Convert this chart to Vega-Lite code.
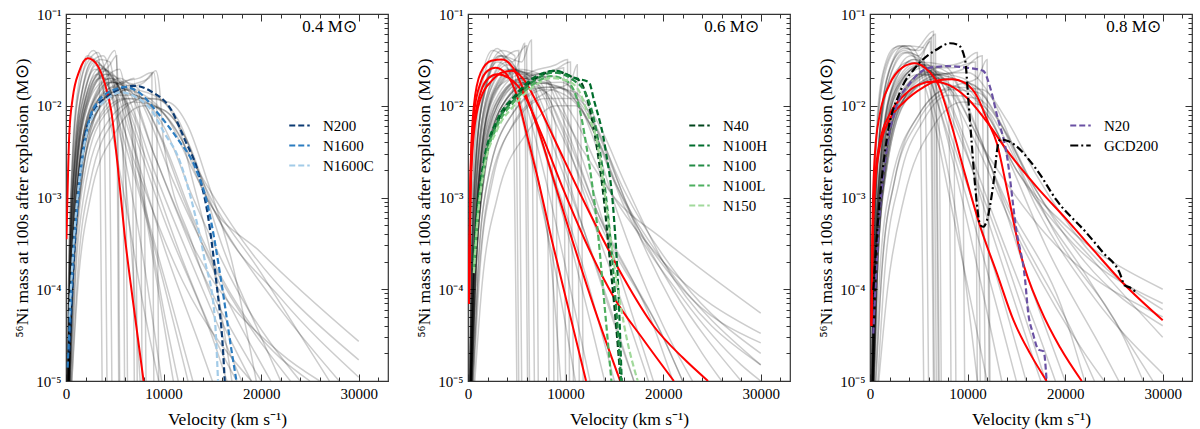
{
  "$schema": "https://vega.github.io/schema/vega-lite/v6.json",
  "background": "white",
  "padding": {"left": 13, "top": 6, "right": 2, "bottom": 2},
  "config": {
    "font": "Liberation Serif",
    "view": {"stroke": "#333", "strokeWidth": 1.2},
    "axis": {
      "labelFont": "Liberation Serif", "titleFont": "Liberation Serif",
      "labelFontSize": 15, "titleFontSize": 17.5, "titleFontWeight": "normal",
      "labelColor": "#000", "titleColor": "#000", "domain": false, "grid": false,
      "tickColor": "#333", "tickWidth": 1, "labelOverlap": false, "labelFlush": false, "labelBound": false
    },
    "legend": {"labelFont": "Liberation Serif", "labelFontSize": 15, "labelColor": "#000"},
    "concat": {"spacing": 25}
  },
  "resolve": {"scale": {"color": "independent", "strokeDash": "independent"}, "legend": {"color": "independent", "strokeDash": "independent"}},
  "datasets": {
    "p1": [
      {"s":"a1","x":100,"y":1e-5},{"s":"a1","x":250,"y":1e-4},{"s":"a1","x":500,"y":1e-3},{"s":"a1","x":1000,"y":1e-2},{"s":"a1","x":2200,"y":3.5e-2},{"s":"a1","x":3000,"y":3e-2},{"s":"a1","x":4000,"y":1.2e-2},{"s":"a1","x":6000,"y":1e-3},{"s":"a1","x":8000,"y":6e-5},{"s":"a1","x":9500,"y":1e-5},
      {"s":"a2","x":150,"y":1e-5},{"s":"a2","x":300,"y":1e-4},{"s":"a2","x":600,"y":1.5e-3},{"s":"a2","x":1200,"y":1.2e-2},{"s":"a2","x":2800,"y":4e-2},{"s":"a2","x":3400,"y":3.2e-2},{"s":"a2","x":3700,"y":1e-5},
      {"s":"a3","x":100,"y":1e-5},{"s":"a3","x":300,"y":2e-4},{"s":"a3","x":700,"y":2e-3},{"s":"a3","x":1500,"y":1.2e-2},{"s":"a3","x":3000,"y":3e-2},{"s":"a3","x":4500,"y":2e-2},{"s":"a3","x":7000,"y":2e-3},{"s":"a3","x":11000,"y":6e-5},{"s":"a3","x":13000,"y":1e-5},
      {"s":"a4","x":200,"y":1e-5},{"s":"a4","x":400,"y":2e-4},{"s":"a4","x":800,"y":1.5e-3},{"s":"a4","x":2000,"y":1.2e-2},{"s":"a4","x":4000,"y":2.8e-2},{"s":"a4","x":5000,"y":4e-2},{"s":"a4","x":5300,"y":2e-2},{"s":"a4","x":5500,"y":1e-5},
      {"s":"a5","x":200,"y":1e-5},{"s":"a5","x":400,"y":1.5e-4},{"s":"a5","x":900,"y":1.5e-3},{"s":"a5","x":2000,"y":1e-2},{"s":"a5","x":3500,"y":2e-2},{"s":"a5","x":5000,"y":1.8e-2},{"s":"a5","x":8000,"y":3e-3},{"s":"a5","x":12000,"y":2e-4},{"s":"a5","x":16000,"y":2e-5},{"s":"a5","x":17500,"y":1e-5},
      {"s":"a6","x":300,"y":1e-5},{"s":"a6","x":500,"y":1e-4},{"s":"a6","x":1000,"y":1e-3},{"s":"a6","x":2500,"y":8e-3},{"s":"a6","x":4500,"y":1.8e-2},{"s":"a6","x":6500,"y":1.5e-2},{"s":"a6","x":9000,"y":3e-3},{"s":"a6","x":14000,"y":1.5e-4},{"s":"a6","x":20000,"y":1e-5},
      {"s":"a7","x":300,"y":1e-5},{"s":"a7","x":600,"y":2e-4},{"s":"a7","x":1200,"y":1.5e-3},{"s":"a7","x":3000,"y":1e-2},{"s":"a7","x":6000,"y":1.6e-2},{"s":"a7","x":8500,"y":2e-2},{"s":"a7","x":9000,"y":2.3e-2},{"s":"a7","x":9300,"y":1e-2},{"s":"a7","x":9500,"y":1e-5},
      {"s":"a8","x":250,"y":1e-5},{"s":"a8","x":500,"y":1e-4},{"s":"a8","x":1000,"y":1e-3},{"s":"a8","x":2000,"y":6e-3},{"s":"a8","x":4000,"y":1.3e-2},{"s":"a8","x":7000,"y":1.3e-2},{"s":"a8","x":10000,"y":6e-3},{"s":"a8","x":13000,"y":1e-3},{"s":"a8","x":18000,"y":8e-5},{"s":"a8","x":24000,"y":1e-5},
      {"s":"a9","x":300,"y":1e-5},{"s":"a9","x":600,"y":1e-4},{"s":"a9","x":1200,"y":8e-4},{"s":"a9","x":3000,"y":6e-3},{"s":"a9","x":6000,"y":1.2e-2},{"s":"a9","x":9000,"y":1e-2},{"s":"a9","x":12000,"y":4e-3},{"s":"a9","x":14000,"y":1.2e-3},{"s":"a9","x":20000,"y":2.5e-4},{"s":"a9","x":30000,"y":2.7e-5},
      {"s":"a10","x":400,"y":1e-5},{"s":"a10","x":700,"y":1e-4},{"s":"a10","x":1500,"y":1.2e-3},{"s":"a10","x":3500,"y":1e-2},{"s":"a10","x":6000,"y":1.8e-2},{"s":"a10","x":7500,"y":1.5e-2},{"s":"a10","x":7800,"y":1e-5},
      {"s":"a11","x":200,"y":1e-5},{"s":"a11","x":400,"y":2e-4},{"s":"a11","x":900,"y":2.5e-3},{"s":"a11","x":2000,"y":1.5e-2},{"s":"a11","x":3000,"y":2.5e-2},{"s":"a11","x":4200,"y":1.8e-2},{"s":"a11","x":6000,"y":4e-3},{"s":"a11","x":9000,"y":3e-4},{"s":"a11","x":12500,"y":1e-5},
      {"s":"a12","x":300,"y":1e-5},{"s":"a12","x":500,"y":1e-4},{"s":"a12","x":1000,"y":1.3e-3},{"s":"a12","x":2200,"y":1e-2},{"s":"a12","x":4000,"y":2.2e-2},{"s":"a12","x":5200,"y":1.8e-2},{"s":"a12","x":7000,"y":5e-3},{"s":"a12","x":10000,"y":6e-4},{"s":"a12","x":15000,"y":3e-5},{"s":"a12","x":16500,"y":1e-5},
      {"s":"a13","x":400,"y":1e-5},{"s":"a13","x":800,"y":2e-4},{"s":"a13","x":1500,"y":2e-3},{"s":"a13","x":3000,"y":1e-2},{"s":"a13","x":5500,"y":2e-2},{"s":"a13","x":7500,"y":1.2e-2},{"s":"a13","x":11000,"y":1.5e-3},{"s":"a13","x":16000,"y":1.2e-4},{"s":"a13","x":23000,"y":1e-5},
      {"s":"a14","x":500,"y":1e-5},{"s":"a14","x":900,"y":1e-4},{"s":"a14","x":1800,"y":1e-3},{"s":"a14","x":4000,"y":6e-3},{"s":"a14","x":7000,"y":1.1e-2},{"s":"a14","x":10000,"y":9e-3},{"s":"a14","x":12500,"y":4e-3},{"s":"a14","x":15000,"y":8e-4},{"s":"a14","x":22000,"y":8e-5},{"s":"a14","x":30000,"y":1.1e-5},
      {"s":"a15","x":300,"y":1e-5},{"s":"a15","x":600,"y":2e-4},{"s":"a15","x":1100,"y":2e-3},{"s":"a15","x":2400,"y":1.3e-2},{"s":"a15","x":4500,"y":2.8e-2},{"s":"a15","x":5200,"y":3.5e-2},{"s":"a15","x":5400,"y":1e-5},
      {"s":"a16","x":200,"y":1e-5},{"s":"a16","x":350,"y":1e-4},{"s":"a16","x":700,"y":1.5e-3},{"s":"a16","x":1500,"y":1.2e-2},{"s":"a16","x":2800,"y":3.2e-2},{"s":"a16","x":3800,"y":2.5e-2},{"s":"a16","x":4200,"y":1e-5},
      {"s":"a17","x":400,"y":1e-5},{"s":"a17","x":700,"y":1.5e-4},{"s":"a17","x":1400,"y":1.5e-3},{"s":"a17","x":3000,"y":8e-3},{"s":"a17","x":6000,"y":1.5e-2},{"s":"a17","x":8000,"y":1.8e-2},{"s":"a17","x":9200,"y":2.4e-2},{"s":"a17","x":9600,"y":1.5e-2},{"s":"a17","x":10000,"y":4e-3},{"s":"a17","x":13000,"y":3e-4},{"s":"a17","x":19000,"y":1e-5},
      {"s":"a18","x":300,"y":1e-5},{"s":"a18","x":600,"y":1e-4},{"s":"a18","x":1200,"y":1e-3},{"s":"a18","x":2500,"y":6e-3},{"s":"a18","x":5000,"y":1.4e-2},{"s":"a18","x":8000,"y":1.2e-2},{"s":"a18","x":11000,"y":6e-3},{"s":"a18","x":13500,"y":2e-3},{"s":"a18","x":17000,"y":5e-4},{"s":"a18","x":30000,"y":1.7e-5},
      {"s":"a19","x":250,"y":1e-5},{"s":"a19","x":500,"y":2e-4},{"s":"a19","x":1000,"y":2e-3},{"s":"a19","x":2000,"y":1.2e-2},{"s":"a19","x":3500,"y":2.6e-2},{"s":"a19","x":4800,"y":2e-2},{"s":"a19","x":6500,"y":6e-3},{"s":"a19","x":8500,"y":4e-4},{"s":"a19","x":11000,"y":1e-5},
      {"s":"a20","x":350,"y":1e-5},{"s":"a20","x":600,"y":1e-4},{"s":"a20","x":1200,"y":1.5e-3},{"s":"a20","x":2600,"y":1e-2},{"s":"a20","x":4500,"y":1.8e-2},{"s":"a20","x":6000,"y":1.6e-2},{"s":"a20","x":6300,"y":1e-5},
      {"s":"a21","x":500,"y":1e-5},{"s":"a21","x":1000,"y":2e-4},{"s":"a21","x":2000,"y":2e-3},{"s":"a21","x":4000,"y":8e-3},{"s":"a21","x":6500,"y":1.2e-2},{"s":"a21","x":9000,"y":1.2e-2},{"s":"a21","x":11500,"y":7e-3},{"s":"a21","x":13500,"y":2e-3},{"s":"a21","x":16000,"y":3e-4},{"s":"a21","x":20000,"y":3e-5},{"s":"a21","x":22000,"y":1e-5},
      {"s":"a22","x":200,"y":1e-5},{"s":"a22","x":400,"y":1.5e-4},{"s":"a22","x":800,"y":1.5e-3},{"s":"a22","x":1800,"y":1e-2},{"s":"a22","x":3200,"y":2.2e-2},{"s":"a22","x":4500,"y":1.5e-2},{"s":"a22","x":7000,"y":2.5e-3},{"s":"a22","x":12000,"y":1.2e-4},{"s":"a22","x":19000,"y":1e-5},
      {"s":"a23","x":300,"y":1e-5},{"s":"a23","x":600,"y":1.5e-4},{"s":"a23","x":1200,"y":1.5e-3},{"s":"a23","x":2500,"y":1e-2},{"s":"a23","x":4500,"y":2e-2},{"s":"a23","x":6500,"y":1.4e-2},{"s":"a23","x":9000,"y":3e-3},{"s":"a23","x":13000,"y":3e-4},{"s":"a23","x":22000,"y":2e-5},{"s":"a23","x":26000,"y":1e-5},
      {"s":"a24","x":400,"y":1e-5},{"s":"a24","x":800,"y":1.5e-4},{"s":"a24","x":1600,"y":1.5e-3},{"s":"a24","x":3500,"y":1e-2},{"s":"a24","x":6000,"y":1.8e-2},{"s":"a24","x":7000,"y":2e-2},{"s":"a24","x":7300,"y":1e-5},
      {"s":"a25","x":200,"y":1e-5},{"s":"a25","x":400,"y":2e-4},{"s":"a25","x":800,"y":2e-3},{"s":"a25","x":1700,"y":1.5e-2},{"s":"a25","x":2600,"y":3e-2},{"s":"a25","x":3800,"y":3.5e-2},{"s":"a25","x":4300,"y":2.8e-2},{"s":"a25","x":4700,"y":1e-5},
      {"s":"a26","x":300,"y":1e-5},{"s":"a26","x":600,"y":1e-4},{"s":"a26","x":1300,"y":1.2e-3},{"s":"a26","x":3000,"y":8e-3},{"s":"a26","x":5500,"y":1.5e-2},{"s":"a26","x":8000,"y":1.3e-2},{"s":"a26","x":10500,"y":7e-3},{"s":"a26","x":13000,"y":2e-3},{"s":"a26","x":16000,"y":5e-4},{"s":"a26","x":22000,"y":6e-5},{"s":"a26","x":28000,"y":1e-5},
      {"s":"a27","x":600,"y":1e-5},{"s":"a27","x":1200,"y":1e-4},{"s":"a27","x":2500,"y":1e-3},{"s":"a27","x":5000,"y":5e-3},{"s":"a27","x":8000,"y":1e-2},{"s":"a27","x":10000,"y":9e-3},{"s":"a27","x":12000,"y":5e-3},{"s":"a27","x":14000,"y":1.5e-3},{"s":"a27","x":20000,"y":1.5e-4},{"s":"a27","x":27000,"y":1e-5},
      {"s":"a28","x":200,"y":1e-5},{"s":"a28","x":400,"y":1e-4},{"s":"a28","x":900,"y":1.2e-3},{"s":"a28","x":2000,"y":1e-2},{"s":"a28","x":3800,"y":2.5e-2},{"s":"a28","x":6000,"y":1.5e-2},{"s":"a28","x":9000,"y":2e-3},{"s":"a28","x":14000,"y":1e-4},{"s":"a28","x":18000,"y":1e-5},
      {"s":"a29","x":300,"y":1e-5},{"s":"a29","x":600,"y":1e-4},{"s":"a29","x":1200,"y":1.2e-3},{"s":"a29","x":2500,"y":9e-3},{"s":"a29","x":4500,"y":2e-2},{"s":"a29","x":6000,"y":1.2e-2},{"s":"a29","x":8000,"y":3e-3},{"s":"a29","x":8200,"y":1e-5},
      {"s":"a30","x":250,"y":1e-5},{"s":"a30","x":500,"y":1.5e-4},{"s":"a30","x":1000,"y":1.8e-3},{"s":"a30","x":2200,"y":1.3e-2},{"s":"a30","x":4000,"y":2.4e-2},{"s":"a30","x":5500,"y":1.5e-2},{"s":"a30","x":6800,"y":5e-3},{"s":"a30","x":7000,"y":1e-5},
      {"s":"a31","x":150,"y":1e-5},{"s":"a31","x":300,"y":2e-4},{"s":"a31","x":700,"y":3e-3},{"s":"a31","x":1500,"y":1.8e-2},{"s":"a31","x":2500,"y":3.3e-2},{"s":"a31","x":3300,"y":3.8e-2},{"s":"a31","x":4000,"y":2.5e-2},{"s":"a31","x":5500,"y":5e-3},{"s":"a31","x":7500,"y":4e-4},{"s":"a31","x":9800,"y":1e-5},
      {"s":"a32","x":250,"y":1e-5},{"s":"a32","x":500,"y":1.5e-4},{"s":"a32","x":1000,"y":1.5e-3},{"s":"a32","x":2200,"y":1e-2},{"s":"a32","x":4000,"y":2e-2},{"s":"a32","x":5500,"y":2.5e-2},{"s":"a32","x":6200,"y":1.2e-2},{"s":"a32","x":8000,"y":1e-3},{"s":"a32","x":10000,"y":6e-5},{"s":"a32","x":11500,"y":1e-5},
      {"s":"a33","x":350,"y":1e-5},{"s":"a33","x":700,"y":1.5e-4},{"s":"a33","x":1400,"y":1.5e-3},{"s":"a33","x":3000,"y":1e-2},{"s":"a33","x":5500,"y":1.8e-2},{"s":"a33","x":7500,"y":2e-2},{"s":"a33","x":8800,"y":2.3e-2},{"s":"a33","x":9000,"y":1e-5},
      {"s":"a34","x":400,"y":1e-5},{"s":"a34","x":800,"y":1.5e-4},{"s":"a34","x":1600,"y":1.5e-3},{"s":"a34","x":3500,"y":8e-3},{"s":"a34","x":6500,"y":1.5e-2},{"s":"a34","x":9000,"y":1.3e-2},{"s":"a34","x":11500,"y":6e-3},{"s":"a34","x":13000,"y":1.5e-3},{"s":"a34","x":15000,"y":2e-4},{"s":"a34","x":17000,"y":1e-5},
      {"s":"a35","x":200,"y":1e-5},{"s":"a35","x":400,"y":1.5e-4},{"s":"a35","x":800,"y":1.8e-3},{"s":"a35","x":1800,"y":1.2e-2},{"s":"a35","x":3200,"y":2.8e-2},{"s":"a35","x":4500,"y":2.2e-2},{"s":"a35","x":6500,"y":5e-3},{"s":"a35","x":10000,"y":3e-4},{"s":"a35","x":14000,"y":2e-5},{"s":"a35","x":15000,"y":1e-5},
      {"s":"a36","x":300,"y":1e-5},{"s":"a36","x":600,"y":1.5e-4},{"s":"a36","x":1200,"y":1.5e-3},{"s":"a36","x":2600,"y":1e-2},{"s":"a36","x":5000,"y":1.8e-2},{"s":"a36","x":7000,"y":1.5e-2},{"s":"a36","x":9500,"y":5e-3},{"s":"a36","x":12000,"y":1e-3},{"s":"a36","x":16000,"y":1e-4},{"s":"a36","x":21000,"y":1e-5},
      {"s":"a37","x":600,"y":1e-5},{"s":"a37","x":1200,"y":1.5e-4},{"s":"a37","x":2500,"y":1.5e-3},{"s":"a37","x":5000,"y":7e-3},{"s":"a37","x":8000,"y":1.2e-2},{"s":"a37","x":10500,"y":1.1e-2},{"s":"a37","x":12500,"y":6e-3},{"s":"a37","x":14500,"y":1.5e-3},{"s":"a37","x":17000,"y":2e-4},{"s":"a37","x":19500,"y":1e-5},
      {"s":"a38","x":250,"y":1e-5},{"s":"a38","x":500,"y":1.5e-4},{"s":"a38","x":1000,"y":1.6e-3},{"s":"a38","x":2200,"y":1.1e-2},{"s":"a38","x":4200,"y":2.2e-2},{"s":"a38","x":5800,"y":1.8e-2},{"s":"a38","x":6000,"y":1e-5},
      {"s":"a39","x":300,"y":1e-5},{"s":"a39","x":600,"y":1.2e-4},{"s":"a39","x":1200,"y":1.3e-3},{"s":"a39","x":2700,"y":9e-3},{"s":"a39","x":5000,"y":1.6e-2},{"s":"a39","x":7500,"y":1.2e-2},{"s":"a39","x":10000,"y":4e-3},{"s":"a39","x":13000,"y":6e-4},{"s":"a39","x":19000,"y":4e-5},{"s":"a39","x":25000,"y":1e-5},
      {"s":"a40","x":200,"y":1e-5},{"s":"a40","x":400,"y":2e-4},{"s":"a40","x":900,"y":2.5e-3},{"s":"a40","x":2000,"y":1.6e-2},{"s":"a40","x":3500,"y":3.2e-2},{"s":"a40","x":4500,"y":3e-2},{"s":"a40","x":5000,"y":1.5e-2},{"s":"a40","x":6000,"y":2e-3},{"s":"a40","x":7000,"y":1e-4},{"s":"a40","x":7600,"y":1e-5},
      {"s":"r1","x":50,"y":3.5e-4},{"s":"r1","x":340,"y":5e-3},{"s":"r1","x":680,"y":1.2e-2},{"s":"r1","x":1370,"y":2.4e-2},{"s":"r1","x":2230,"y":3.3e-2},{"s":"r1","x":3080,"y":2.9e-2},{"s":"r1","x":3940,"y":1.8e-2},{"s":"r1","x":4620,"y":9e-3},{"s":"r1","x":5300,"y":2.2e-3},{"s":"r1","x":6000,"y":4e-4},{"s":"r1","x":6850,"y":7.6e-5},{"s":"r1","x":7950,"y":1e-5},
      {"s":"N200","x":340,"y":2.1e-5},{"s":"N200","x":680,"y":1.2e-4},{"s":"N200","x":1200,"y":9.3e-4},{"s":"N200","x":1880,"y":4.3e-3},{"s":"N200","x":2910,"y":9e-3},{"s":"N200","x":4280,"y":1.26e-2},{"s":"N200","x":5990,"y":1.59e-2},{"s":"N200","x":7020,"y":1.65e-2},{"s":"N200","x":8730,"y":1.43e-2},{"s":"N200","x":10790,"y":9e-3},{"s":"N200","x":12160,"y":4.3e-3},{"s":"N200","x":13530,"y":1.9e-3},{"s":"N200","x":14550,"y":6.3e-4},{"s":"N200","x":15410,"y":1.2e-4},{"s":"N200","x":16100,"y":2.1e-5},{"s":"N200","x":16270,"y":1e-5},
      {"s":"N1600","x":170,"y":1.4e-5},{"s":"N1600","x":680,"y":1.8e-4},{"s":"N1600","x":1370,"y":1.4e-3},{"s":"N1600","x":2230,"y":6e-3},{"s":"N1600","x":3250,"y":1.1e-2},{"s":"N1600","x":4970,"y":1.5e-2},{"s":"N1600","x":5990,"y":1.6e-2},{"s":"N1600","x":7360,"y":1.43e-2},{"s":"N1600","x":9420,"y":8.3e-3},{"s":"N1600","x":11470,"y":4.3e-3},{"s":"N1600","x":13180,"y":2.2e-3},{"s":"N1600","x":14550,"y":8e-4},{"s":"N1600","x":15920,"y":1.2e-4},{"s":"N1600","x":16950,"y":2.2e-5},{"s":"N1600","x":17470,"y":1e-5},
      {"s":"N1600C","x":340,"y":5e-5},{"s":"N1600C","x":850,"y":4e-4},{"s":"N1600C","x":1540,"y":2.2e-3},{"s":"N1600C","x":2570,"y":7e-3},{"s":"N1600C","x":4280,"y":1.2e-2},{"s":"N1600C","x":5650,"y":1.4e-2},{"s":"N1600C","x":7020,"y":1.27e-2},{"s":"N1600C","x":8730,"y":9e-3},{"s":"N1600C","x":10100,"y":5e-3},{"s":"N1600C","x":11470,"y":2.8e-3},{"s":"N1600C","x":12840,"y":9.5e-4},{"s":"N1600C","x":14210,"y":2.1e-4},{"s":"N1600C","x":15240,"y":5e-5},{"s":"N1600C","x":15580,"y":1e-5}
    ],
    "p2": [
      {"s":"a1","x":150,"y":1e-5},{"s":"a1","x":300,"y":2e-4},{"s":"a1","x":600,"y":3e-3},{"s":"a1","x":1200,"y":1.5e-2},{"s":"a1","x":2500,"y":4e-2},{"s":"a1","x":3500,"y":3.5e-2},{"s":"a1","x":5000,"y":1.2e-2},{"s":"a1","x":7000,"y":1.5e-3},{"s":"a1","x":9500,"y":8e-5},{"s":"a1","x":11000,"y":1e-5},
      {"s":"a2","x":150,"y":1e-5},{"s":"a2","x":300,"y":2e-4},{"s":"a2","x":700,"y":3e-3},{"s":"a2","x":1500,"y":1.8e-2},{"s":"a2","x":3000,"y":4.2e-2},{"s":"a2","x":4500,"y":3e-2},{"s":"a2","x":6000,"y":4.5e-2},{"s":"a2","x":6300,"y":1e-5},
      {"s":"a3","x":200,"y":1e-5},{"s":"a3","x":400,"y":2e-4},{"s":"a3","x":800,"y":2.5e-3},{"s":"a3","x":1800,"y":1.5e-2},{"s":"a3","x":3500,"y":3.5e-2},{"s":"a3","x":5500,"y":3e-2},{"s":"a3","x":6500,"y":5.2e-2},{"s":"a3","x":6800,"y":1e-5},
      {"s":"a4","x":200,"y":1e-5},{"s":"a4","x":400,"y":1.5e-4},{"s":"a4","x":900,"y":2e-3},{"s":"a4","x":2000,"y":1.2e-2},{"s":"a4","x":4000,"y":2.5e-2},{"s":"a4","x":6000,"y":2e-2},{"s":"a4","x":9000,"y":3e-3},{"s":"a4","x":13000,"y":2e-4},{"s":"a4","x":17000,"y":1e-5},
      {"s":"a5","x":300,"y":1e-5},{"s":"a5","x":600,"y":1.5e-4},{"s":"a5","x":1200,"y":1.5e-3},{"s":"a5","x":3000,"y":1e-2},{"s":"a5","x":6000,"y":2e-2},{"s":"a5","x":9000,"y":2.5e-2},{"s":"a5","x":10500,"y":3e-2},{"s":"a5","x":10800,"y":1e-5},
      {"s":"a6","x":300,"y":1e-5},{"s":"a6","x":600,"y":1e-4},{"s":"a6","x":1300,"y":1e-3},{"s":"a6","x":3000,"y":7e-3},{"s":"a6","x":6000,"y":1.5e-2},{"s":"a6","x":9000,"y":1.6e-2},{"s":"a6","x":12000,"y":8e-3},{"s":"a6","x":15000,"y":1.5e-3},{"s":"a6","x":20000,"y":2e-4},{"s":"a6","x":30000,"y":1.5e-5},
      {"s":"a7","x":250,"y":1e-5},{"s":"a7","x":500,"y":1e-4},{"s":"a7","x":1000,"y":1.2e-3},{"s":"a7","x":2500,"y":9e-3},{"s":"a7","x":5000,"y":1.8e-2},{"s":"a7","x":8000,"y":1.4e-2},{"s":"a7","x":12000,"y":3e-3},{"s":"a7","x":15000,"y":1e-3},{"s":"a7","x":20000,"y":3.5e-4},{"s":"a7","x":30000,"y":5.5e-5},
      {"s":"a8","x":200,"y":1e-5},{"s":"a8","x":400,"y":2e-4},{"s":"a8","x":800,"y":2e-3},{"s":"a8","x":1700,"y":1.5e-2},{"s":"a8","x":3200,"y":3.5e-2},{"s":"a8","x":4500,"y":2.5e-2},{"s":"a8","x":5000,"y":1e-5},
      {"s":"a9","x":400,"y":1e-5},{"s":"a9","x":800,"y":1.5e-4},{"s":"a9","x":1600,"y":1.5e-3},{"s":"a9","x":3500,"y":1e-2},{"s":"a9","x":7000,"y":2e-2},{"s":"a9","x":8500,"y":1.8e-2},{"s":"a9","x":8800,"y":1e-5},
      {"s":"a10","x":300,"y":1e-5},{"s":"a10","x":600,"y":1.5e-4},{"s":"a10","x":1200,"y":2e-3},{"s":"a10","x":2500,"y":1.3e-2},{"s":"a10","x":4500,"y":2.5e-2},{"s":"a10","x":6500,"y":1.8e-2},{"s":"a10","x":9000,"y":4e-3},{"s":"a10","x":12000,"y":4e-4},{"s":"a10","x":16000,"y":2e-5},{"s":"a10","x":17000,"y":1e-5},
      {"s":"a11","x":500,"y":1e-5},{"s":"a11","x":1000,"y":1.5e-4},{"s":"a11","x":2000,"y":1.5e-3},{"s":"a11","x":4500,"y":8e-3},{"s":"a11","x":8000,"y":1.5e-2},{"s":"a11","x":10500,"y":1.2e-2},{"s":"a11","x":13000,"y":5e-3},{"s":"a11","x":16000,"y":9e-4},{"s":"a11","x":22000,"y":1e-4},{"s":"a11","x":30000,"y":2.6e-5},
      {"s":"a12","x":400,"y":1e-5},{"s":"a12","x":800,"y":1.5e-4},{"s":"a12","x":1500,"y":1.5e-3},{"s":"a12","x":3500,"y":1e-2},{"s":"a12","x":6000,"y":1.8e-2},{"s":"a12","x":7000,"y":1.5e-2},{"s":"a12","x":7200,"y":1e-5},
      {"s":"a13","x":250,"y":1e-5},{"s":"a13","x":500,"y":2e-4},{"s":"a13","x":1000,"y":2.5e-3},{"s":"a13","x":2200,"y":1.6e-2},{"s":"a13","x":4000,"y":3e-2},{"s":"a13","x":5000,"y":2.5e-2},{"s":"a13","x":7000,"y":6e-3},{"s":"a13","x":10000,"y":5e-4},{"s":"a13","x":14000,"y":1e-5},
      {"s":"a14","x":600,"y":1e-5},{"s":"a14","x":1200,"y":1.5e-4},{"s":"a14","x":2500,"y":1.5e-3},{"s":"a14","x":5000,"y":7e-3},{"s":"a14","x":8000,"y":1.2e-2},{"s":"a14","x":11000,"y":1.2e-2},{"s":"a14","x":13500,"y":5e-3},{"s":"a14","x":16000,"y":1e-3},{"s":"a14","x":21000,"y":1e-4},{"s":"a14","x":28000,"y":1e-5},
      {"s":"a15","x":300,"y":1e-5},{"s":"a15","x":600,"y":2e-4},{"s":"a15","x":1200,"y":2.5e-3},{"s":"a15","x":2700,"y":1.5e-2},{"s":"a15","x":5000,"y":2.5e-2},{"s":"a15","x":7500,"y":2.2e-2},{"s":"a15","x":10000,"y":6e-3},{"s":"a15","x":13000,"y":8e-4},{"s":"a15","x":20000,"y":3e-5},{"s":"a15","x":22000,"y":1e-5},
      {"s":"a16","x":350,"y":1e-5},{"s":"a16","x":700,"y":1.5e-4},{"s":"a16","x":1400,"y":1.5e-3},{"s":"a16","x":3000,"y":1e-2},{"s":"a16","x":6000,"y":2.2e-2},{"s":"a16","x":9000,"y":2.8e-2},{"s":"a16","x":10200,"y":3.2e-2},{"s":"a16","x":10400,"y":1e-5},
      {"s":"a17","x":250,"y":1e-5},{"s":"a17","x":500,"y":1.5e-4},{"s":"a17","x":1000,"y":2e-3},{"s":"a17","x":2200,"y":1.2e-2},{"s":"a17","x":4500,"y":2.5e-2},{"s":"a17","x":6500,"y":2e-2},{"s":"a17","x":9500,"y":5e-3},{"s":"a17","x":14000,"y":4e-4},{"s":"a17","x":20000,"y":3e-5},{"s":"a17","x":22000,"y":1e-5},
      {"s":"a18","x":300,"y":1e-5},{"s":"a18","x":600,"y":1.5e-4},{"s":"a18","x":1200,"y":1.5e-3},{"s":"a18","x":2800,"y":1e-2},{"s":"a18","x":5500,"y":2e-2},{"s":"a18","x":8000,"y":1.8e-2},{"s":"a18","x":11000,"y":7e-3},{"s":"a18","x":14000,"y":1.5e-3},{"s":"a18","x":20000,"y":2e-4},{"s":"a18","x":30000,"y":3.3e-5},
      {"s":"a19","x":200,"y":1e-5},{"s":"a19","x":400,"y":2e-4},{"s":"a19","x":800,"y":2.5e-3},{"s":"a19","x":1800,"y":1.8e-2},{"s":"a19","x":3500,"y":4e-2},{"s":"a19","x":4800,"y":3.5e-2},{"s":"a19","x":5200,"y":1e-5},
      {"s":"a20","x":400,"y":1e-5},{"s":"a20","x":800,"y":1.5e-4},{"s":"a20","x":1500,"y":1.5e-3},{"s":"a20","x":3500,"y":1e-2},{"s":"a20","x":6500,"y":1.8e-2},{"s":"a20","x":9500,"y":1.6e-2},{"s":"a20","x":11500,"y":9e-3},{"s":"a20","x":11800,"y":1e-5},
      {"s":"a21","x":700,"y":1e-5},{"s":"a21","x":1400,"y":1e-4},{"s":"a21","x":3000,"y":1e-3},{"s":"a21","x":6000,"y":5e-3},{"s":"a21","x":9000,"y":1e-2},{"s":"a21","x":11000,"y":1e-2},{"s":"a21","x":13000,"y":5e-3},{"s":"a21","x":16000,"y":8e-4},{"s":"a21","x":22000,"y":8e-5},{"s":"a21","x":28000,"y":1.5e-5},{"s":"a21","x":30000,"y":1e-5},
      {"s":"a22","x":300,"y":1e-5},{"s":"a22","x":600,"y":1.5e-4},{"s":"a22","x":1200,"y":2e-3},{"s":"a22","x":2500,"y":1.2e-2},{"s":"a22","x":5000,"y":2.4e-2},{"s":"a22","x":7000,"y":1.8e-2},{"s":"a22","x":9000,"y":6e-3},{"s":"a22","x":9200,"y":1e-5},
      {"s":"a23","x":250,"y":1e-5},{"s":"a23","x":500,"y":1.5e-4},{"s":"a23","x":1000,"y":2e-3},{"s":"a23","x":2200,"y":1.4e-2},{"s":"a23","x":4000,"y":2.8e-2},{"s":"a23","x":5500,"y":2e-2},{"s":"a23","x":8000,"y":3e-3},{"s":"a23","x":12000,"y":1.5e-4},{"s":"a23","x":15000,"y":1e-5},
      {"s":"a24","x":400,"y":1e-5},{"s":"a24","x":800,"y":1.5e-4},{"s":"a24","x":1600,"y":1.5e-3},{"s":"a24","x":3500,"y":1e-2},{"s":"a24","x":6500,"y":1.8e-2},{"s":"a24","x":10000,"y":1.5e-2},{"s":"a24","x":13000,"y":6e-3},{"s":"a24","x":16000,"y":1.2e-3},{"s":"a24","x":22000,"y":1.2e-4},{"s":"a24","x":30000,"y":2e-5},
      {"s":"a25","x":350,"y":1e-5},{"s":"a25","x":700,"y":1.5e-4},{"s":"a25","x":1400,"y":1.5e-3},{"s":"a25","x":3000,"y":1e-2},{"s":"a25","x":5500,"y":2e-2},{"s":"a25","x":7500,"y":1.6e-2},{"s":"a25","x":10000,"y":5e-3},{"s":"a25","x":13000,"y":8e-4},{"s":"a25","x":19000,"y":4e-5},{"s":"a25","x":21000,"y":1e-5},
      {"s":"a26","x":300,"y":1e-5},{"s":"a26","x":600,"y":2e-4},{"s":"a26","x":1200,"y":2e-3},{"s":"a26","x":2600,"y":1.3e-2},{"s":"a26","x":5000,"y":2.6e-2},{"s":"a26","x":5800,"y":4.8e-2},{"s":"a26","x":6100,"y":1e-5},
      {"s":"a27","x":500,"y":1e-5},{"s":"a27","x":1000,"y":1e-4},{"s":"a27","x":2000,"y":1e-3},{"s":"a27","x":4500,"y":6e-3},{"s":"a27","x":8000,"y":1.4e-2},{"s":"a27","x":10500,"y":1.8e-2},{"s":"a27","x":11200,"y":2.8e-2},{"s":"a27","x":11400,"y":1e-5},
      {"s":"a28","x":200,"y":1e-5},{"s":"a28","x":400,"y":2e-4},{"s":"a28","x":800,"y":2.5e-3},{"s":"a28","x":1800,"y":1.6e-2},{"s":"a28","x":3300,"y":3.5e-2},{"s":"a28","x":4500,"y":3e-2},{"s":"a28","x":6000,"y":1e-2},{"s":"a28","x":8000,"y":1.5e-3},{"s":"a28","x":10500,"y":1e-4},{"s":"a28","x":12500,"y":1e-5},
      {"s":"a29","x":300,"y":1e-5},{"s":"a29","x":600,"y":1.5e-4},{"s":"a29","x":1200,"y":1.8e-3},{"s":"a29","x":2600,"y":1.2e-2},{"s":"a29","x":5000,"y":2.3e-2},{"s":"a29","x":7500,"y":2.2e-2},{"s":"a29","x":10000,"y":8e-3},{"s":"a29","x":12500,"y":1.5e-3},{"s":"a29","x":16000,"y":1e-4},{"s":"a29","x":19000,"y":1e-5},
      {"s":"a30","x":400,"y":1e-5},{"s":"a30","x":800,"y":1.5e-4},{"s":"a30","x":1600,"y":1.5e-3},{"s":"a30","x":3500,"y":9e-3},{"s":"a30","x":6500,"y":1.7e-2},{"s":"a30","x":9500,"y":1.8e-2},{"s":"a30","x":12000,"y":1e-2},{"s":"a30","x":14500,"y":2.5e-3},{"s":"a30","x":18000,"y":3e-4},{"s":"a30","x":24000,"y":2e-5},{"s":"a30","x":26000,"y":1e-5},
      {"s":"a31","x":250,"y":1e-5},{"s":"a31","x":500,"y":2e-4},{"s":"a31","x":1000,"y":2.5e-3},{"s":"a31","x":2200,"y":1.6e-2},{"s":"a31","x":4000,"y":3.5e-2},{"s":"a31","x":5200,"y":4e-2},{"s":"a31","x":5500,"y":1e-5},
      {"s":"a32","x":350,"y":1e-5},{"s":"a32","x":700,"y":1.5e-4},{"s":"a32","x":1400,"y":1.8e-3},{"s":"a32","x":3000,"y":1.1e-2},{"s":"a32","x":6000,"y":2.1e-2},{"s":"a32","x":8500,"y":2.3e-2},{"s":"a32","x":9800,"y":2.6e-2},{"s":"a32","x":10000,"y":1e-5},
      {"s":"a33","x":300,"y":1e-5},{"s":"a33","x":600,"y":1.8e-4},{"s":"a33","x":1200,"y":2e-3},{"s":"a33","x":2500,"y":1.3e-2},{"s":"a33","x":5000,"y":2.4e-2},{"s":"a33","x":7000,"y":2e-2},{"s":"a33","x":9500,"y":6e-3},{"s":"a33","x":12500,"y":7e-4},{"s":"a33","x":17000,"y":3e-5},{"s":"a33","x":18500,"y":1e-5},
      {"s":"a34","x":200,"y":1e-5},{"s":"a34","x":400,"y":2e-4},{"s":"a34","x":800,"y":2.5e-3},{"s":"a34","x":1800,"y":1.5e-2},{"s":"a34","x":3000,"y":3e-2},{"s":"a34","x":4000,"y":2.6e-2},{"s":"a34","x":5500,"y":1e-2},{"s":"a34","x":7000,"y":2e-3},{"s":"a34","x":8500,"y":2e-4},{"s":"a34","x":9500,"y":1e-5},
      {"s":"a35","x":500,"y":1e-5},{"s":"a35","x":1000,"y":1.5e-4},{"s":"a35","x":2000,"y":1.5e-3},{"s":"a35","x":4500,"y":8e-3},{"s":"a35","x":8000,"y":1.6e-2},{"s":"a35","x":11000,"y":1.4e-2},{"s":"a35","x":13500,"y":6e-3},{"s":"a35","x":16000,"y":1.5e-3},{"s":"a35","x":20000,"y":2e-4},{"s":"a35","x":30000,"y":1.5e-5},
      {"s":"a36","x":300,"y":1e-5},{"s":"a36","x":600,"y":1.5e-4},{"s":"a36","x":1200,"y":1.7e-3},{"s":"a36","x":2700,"y":1.1e-2},{"s":"a36","x":5500,"y":2.2e-2},{"s":"a36","x":8000,"y":2e-2},{"s":"a36","x":8300,"y":1e-5},
      {"s":"a37","x":400,"y":1e-5},{"s":"a37","x":800,"y":1.5e-4},{"s":"a37","x":1500,"y":1.5e-3},{"s":"a37","x":3200,"y":1e-2},{"s":"a37","x":6000,"y":2e-2},{"s":"a37","x":9000,"y":2.1e-2},{"s":"a37","x":11000,"y":1.3e-2},{"s":"a37","x":13000,"y":4e-3},{"s":"a37","x":15500,"y":6e-4},{"s":"a37","x":20000,"y":4e-5},{"s":"a37","x":23000,"y":1e-5},
      {"s":"r1","x":100,"y":7e-5},{"s":"r1","x":250,"y":1.5e-3},{"s":"r1","x":600,"y":8e-3},{"s":"r1","x":1300,"y":1.8e-2},{"s":"r1","x":2000,"y":2.4e-2},{"s":"r1","x":2800,"y":2.6e-2},{"s":"r1","x":3800,"y":2.3e-2},{"s":"r1","x":5000,"y":1.3e-2},{"s":"r1","x":6000,"y":5e-3},{"s":"r1","x":7100,"y":1.7e-3},{"s":"r1","x":8600,"y":3.4e-4},{"s":"r1","x":10500,"y":5e-5},{"s":"r1","x":12100,"y":1e-5},
      {"s":"r2","x":100,"y":7e-5},{"s":"r2","x":250,"y":1.8e-3},{"s":"r2","x":600,"y":1e-2},{"s":"r2","x":1300,"y":2.3e-2},{"s":"r2","x":2400,"y":3.1e-2},{"s":"r2","x":3500,"y":3.2e-2},{"s":"r2","x":4600,"y":2.6e-2},{"s":"r2","x":5800,"y":1.4e-2},{"s":"r2","x":7100,"y":5.9e-3},{"s":"r2","x":9000,"y":1.3e-3},{"s":"r2","x":10700,"y":3.4e-4},{"s":"r2","x":13000,"y":6e-5},{"s":"r2","x":15600,"y":1e-5},
      {"s":"r3","x":100,"y":7e-5},{"s":"r3","x":250,"y":1.2e-3},{"s":"r3","x":600,"y":6e-3},{"s":"r3","x":1300,"y":1.4e-2},{"s":"r3","x":2100,"y":2e-2},{"s":"r3","x":3000,"y":2.2e-2},{"s":"r3","x":4200,"y":2e-2},{"s":"r3","x":5600,"y":1.4e-2},{"s":"r3","x":7500,"y":5e-3},{"s":"r3","x":9800,"y":1.2e-3},{"s":"r3","x":12000,"y":3.4e-4},{"s":"r3","x":15000,"y":8e-5},{"s":"r3","x":18000,"y":2.8e-5},{"s":"r3","x":21100,"y":1e-5},
      {"s":"r4","x":100,"y":7e-5},{"s":"r4","x":250,"y":1e-3},{"s":"r4","x":600,"y":5e-3},{"s":"r4","x":1300,"y":1.2e-2},{"s":"r4","x":2500,"y":1.9e-2},{"s":"r4","x":3500,"y":2.3e-2},{"s":"r4","x":4500,"y":2.4e-2},{"s":"r4","x":5600,"y":2e-2},{"s":"r4","x":7100,"y":1.06e-2},{"s":"r4","x":9000,"y":4e-3},{"s":"r4","x":11500,"y":1.1e-3},{"s":"r4","x":13900,"y":3.4e-4},{"s":"r4","x":16000,"y":1.3e-4},{"s":"r4","x":19000,"y":4e-5},{"s":"r4","x":22000,"y":1.8e-5},{"s":"r4","x":24600,"y":1e-5},
      {"s":"N40","x":600,"y":2e-4},{"s":"N40","x":1000,"y":8e-4},{"s":"N40","x":1600,"y":2.3e-3},{"s":"N40","x":3000,"y":6.5e-3},{"s":"N40","x":4700,"y":1.2e-2},{"s":"N40","x":7000,"y":2e-2},{"s":"N40","x":8800,"y":2.4e-2},{"s":"N40","x":10500,"y":2.1e-2},{"s":"N40","x":11500,"y":1.85e-2},{"s":"N40","x":12200,"y":1.2e-2},{"s":"N40","x":13250,"y":3.3e-3},{"s":"N40","x":13930,"y":9.5e-4},{"s":"N40","x":14450,"y":2.6e-4},{"s":"N40","x":15100,"y":5e-5},{"s":"N40","x":15650,"y":1e-5},
      {"s":"N100H","x":600,"y":2e-4},{"s":"N100H","x":1000,"y":8e-4},{"s":"N100H","x":1600,"y":2.4e-3},{"s":"N100H","x":3000,"y":7e-3},{"s":"N100H","x":4700,"y":1.25e-2},{"s":"N100H","x":7000,"y":2.1e-2},{"s":"N100H","x":9000,"y":2.4e-2},{"s":"N100H","x":11000,"y":2e-2},{"s":"N100H","x":12400,"y":1.8e-2},{"s":"N100H","x":12900,"y":1.16e-2},{"s":"N100H","x":14100,"y":3.3e-3},{"s":"N100H","x":14950,"y":6.2e-4},{"s":"N100H","x":15450,"y":7.6e-5},{"s":"N100H","x":15750,"y":1e-5},
      {"s":"N100","x":600,"y":1.8e-4},{"s":"N100","x":1000,"y":7e-4},{"s":"N100","x":1600,"y":2.1e-3},{"s":"N100","x":3000,"y":6.5e-3},{"s":"N100","x":4700,"y":1.15e-2},{"s":"N100","x":7000,"y":1.95e-2},{"s":"N100","x":8800,"y":2.3e-2},{"s":"N100","x":10800,"y":1.9e-2},{"s":"N100","x":12000,"y":1.4e-2},{"s":"N100","x":12800,"y":8e-3},{"s":"N100","x":13800,"y":2e-3},{"s":"N100","x":14600,"y":3.5e-4},{"s":"N100","x":15200,"y":6e-5},{"s":"N100","x":15700,"y":1e-5},
      {"s":"N100L","x":600,"y":1.7e-4},{"s":"N100L","x":1000,"y":6.5e-4},{"s":"N100L","x":1600,"y":2e-3},{"s":"N100L","x":3000,"y":6e-3},{"s":"N100L","x":4700,"y":1.1e-2},{"s":"N100L","x":7000,"y":1.8e-2},{"s":"N100L","x":8500,"y":2.1e-2},{"s":"N100L","x":10000,"y":1.9e-2},{"s":"N100L","x":11200,"y":1.16e-2},{"s":"N100L","x":12200,"y":3.3e-3},{"s":"N100L","x":13250,"y":4.8e-4},{"s":"N100L","x":14100,"y":5e-5},{"s":"N100L","x":14700,"y":1e-5},
      {"s":"N150","x":600,"y":1.5e-4},{"s":"N150","x":1000,"y":6e-4},{"s":"N150","x":1600,"y":1.9e-3},{"s":"N150","x":3000,"y":5.5e-3},{"s":"N150","x":4700,"y":1e-2},{"s":"N150","x":7000,"y":1.7e-2},{"s":"N150","x":8500,"y":2e-2},{"s":"N150","x":10000,"y":1.9e-2},{"s":"N150","x":11300,"y":1.5e-2},{"s":"N150","x":12300,"y":8e-3},{"s":"N150","x":13250,"y":3.9e-3},{"s":"N150","x":14100,"y":9.4e-4},{"s":"N150","x":15000,"y":1.8e-4},{"s":"N150","x":16300,"y":2.8e-5},{"s":"N150","x":17400,"y":1e-5}
    ],
    "p3": [
      {"s":"a1","x":150,"y":1e-5},{"s":"a1","x":300,"y":3e-4},{"s":"a1","x":600,"y":4e-3},{"s":"a1","x":1200,"y":2e-2},{"s":"a1","x":2500,"y":4.3e-2},{"s":"a1","x":3500,"y":4.5e-2},{"s":"a1","x":4500,"y":3.5e-2},{"s":"a1","x":6000,"y":1.2e-2},{"s":"a1","x":8000,"y":1.2e-3},{"s":"a1","x":10500,"y":6e-5},{"s":"a1","x":12000,"y":1e-5},
      {"s":"a2","x":150,"y":1e-5},{"s":"a2","x":300,"y":3e-4},{"s":"a2","x":700,"y":5e-3},{"s":"a2","x":1500,"y":2.5e-2},{"s":"a2","x":3000,"y":4.5e-2},{"s":"a2","x":4500,"y":4e-2},{"s":"a2","x":6500,"y":6.5e-2},{"s":"a2","x":6800,"y":1e-5},
      {"s":"a3","x":200,"y":1e-5},{"s":"a3","x":400,"y":2.5e-4},{"s":"a3","x":900,"y":4e-3},{"s":"a3","x":2000,"y":2.5e-2},{"s":"a3","x":3500,"y":4e-2},{"s":"a3","x":5000,"y":3.5e-2},{"s":"a3","x":6200,"y":5e-2},{"s":"a3","x":6500,"y":1e-5},
      {"s":"a4","x":200,"y":1e-5},{"s":"a4","x":400,"y":2e-4},{"s":"a4","x":900,"y":3e-3},{"s":"a4","x":2000,"y":1.8e-2},{"s":"a4","x":4000,"y":3e-2},{"s":"a4","x":6000,"y":2.5e-2},{"s":"a4","x":9000,"y":5e-3},{"s":"a4","x":13000,"y":4e-4},{"s":"a4","x":18000,"y":1e-5},
      {"s":"a5","x":300,"y":1e-5},{"s":"a5","x":600,"y":1.5e-4},{"s":"a5","x":1300,"y":1.5e-3},{"s":"a5","x":3000,"y":1e-2},{"s":"a5","x":6000,"y":2e-2},{"s":"a5","x":9500,"y":2.5e-2},{"s":"a5","x":11500,"y":3.5e-2},{"s":"a5","x":11800,"y":1e-5},
      {"s":"a6","x":300,"y":1e-5},{"s":"a6","x":600,"y":1.5e-4},{"s":"a6","x":1300,"y":1.5e-3},{"s":"a6","x":3000,"y":1e-2},{"s":"a6","x":6000,"y":1.8e-2},{"s":"a6","x":9000,"y":1.6e-2},{"s":"a6","x":12000,"y":8e-3},{"s":"a6","x":15000,"y":2e-3},{"s":"a6","x":20000,"y":5e-4},{"s":"a6","x":30000,"y":1e-4},
      {"s":"a7","x":250,"y":1e-5},{"s":"a7","x":500,"y":1.5e-4},{"s":"a7","x":1100,"y":2e-3},{"s":"a7","x":2500,"y":1.2e-2},{"s":"a7","x":5000,"y":2.2e-2},{"s":"a7","x":8000,"y":1.6e-2},{"s":"a7","x":12000,"y":3e-3},{"s":"a7","x":18000,"y":4e-4},{"s":"a7","x":30000,"y":5e-5},
      {"s":"a8","x":200,"y":1e-5},{"s":"a8","x":400,"y":2.5e-4},{"s":"a8","x":900,"y":3.5e-3},{"s":"a8","x":2000,"y":2e-2},{"s":"a8","x":3500,"y":3.8e-2},{"s":"a8","x":5000,"y":3e-2},{"s":"a8","x":5500,"y":1e-5},
      {"s":"a9","x":400,"y":1e-5},{"s":"a9","x":800,"y":2e-4},{"s":"a9","x":1600,"y":2e-3},{"s":"a9","x":3500,"y":1.2e-2},{"s":"a9","x":6500,"y":2.2e-2},{"s":"a9","x":8500,"y":2e-2},{"s":"a9","x":8800,"y":1e-5},
      {"s":"a10","x":300,"y":1e-5},{"s":"a10","x":600,"y":2e-4},{"s":"a10","x":1300,"y":2.5e-3},{"s":"a10","x":2800,"y":1.5e-2},{"s":"a10","x":5000,"y":2.7e-2},{"s":"a10","x":7000,"y":2e-2},{"s":"a10","x":9500,"y":5e-3},{"s":"a10","x":13000,"y":5e-4},{"s":"a10","x":18000,"y":2e-5},{"s":"a10","x":19000,"y":1e-5},
      {"s":"a11","x":500,"y":1e-5},{"s":"a11","x":1000,"y":1.5e-4},{"s":"a11","x":2200,"y":1.5e-3},{"s":"a11","x":5000,"y":8e-3},{"s":"a11","x":8000,"y":1.5e-2},{"s":"a11","x":11000,"y":1.4e-2},{"s":"a11","x":14000,"y":5e-3},{"s":"a11","x":17000,"y":1.2e-3},{"s":"a11","x":23000,"y":2e-4},{"s":"a11","x":30000,"y":3e-5},
      {"s":"a12","x":400,"y":1e-5},{"s":"a12","x":800,"y":2e-4},{"s":"a12","x":1600,"y":2e-3},{"s":"a12","x":3500,"y":1.2e-2},{"s":"a12","x":6000,"y":2.2e-2},{"s":"a12","x":7000,"y":2e-2},{"s":"a12","x":7300,"y":1e-5},
      {"s":"a13","x":250,"y":1e-5},{"s":"a13","x":500,"y":2.5e-4},{"s":"a13","x":1100,"y":3e-3},{"s":"a13","x":2400,"y":1.8e-2},{"s":"a13","x":4200,"y":3.5e-2},{"s":"a13","x":5500,"y":2.8e-2},{"s":"a13","x":7500,"y":7e-3},{"s":"a13","x":10500,"y":6e-4},{"s":"a13","x":15000,"y":1e-5},
      {"s":"a14","x":800,"y":1e-5},{"s":"a14","x":1500,"y":1.5e-4},{"s":"a14","x":3000,"y":1.5e-3},{"s":"a14","x":5500,"y":7e-3},{"s":"a14","x":8000,"y":1.3e-2},{"s":"a14","x":11000,"y":1.2e-2},{"s":"a14","x":13500,"y":6e-3},{"s":"a14","x":16000,"y":1.5e-3},{"s":"a14","x":22000,"y":1.5e-4},{"s":"a14","x":29000,"y":1e-5},
      {"s":"a15","x":300,"y":1e-5},{"s":"a15","x":600,"y":2e-4},{"s":"a15","x":1300,"y":2.5e-3},{"s":"a15","x":2800,"y":1.6e-2},{"s":"a15","x":5500,"y":2.8e-2},{"s":"a15","x":8000,"y":2.3e-2},{"s":"a15","x":10500,"y":7e-3},{"s":"a15","x":14000,"y":8e-4},{"s":"a15","x":21000,"y":3e-5},{"s":"a15","x":23000,"y":1e-5},
      {"s":"a16","x":350,"y":1e-5},{"s":"a16","x":700,"y":2e-4},{"s":"a16","x":1500,"y":2e-3},{"s":"a16","x":3200,"y":1.2e-2},{"s":"a16","x":6500,"y":2.5e-2},{"s":"a16","x":9500,"y":3e-2},{"s":"a16","x":11000,"y":3.8e-2},{"s":"a16","x":11300,"y":1e-5},
      {"s":"a17","x":250,"y":1e-5},{"s":"a17","x":500,"y":2e-4},{"s":"a17","x":1100,"y":2.5e-3},{"s":"a17","x":2400,"y":1.5e-2},{"s":"a17","x":5000,"y":2.8e-2},{"s":"a17","x":7000,"y":2.2e-2},{"s":"a17","x":10000,"y":6e-3},{"s":"a17","x":15000,"y":4e-4},{"s":"a17","x":22000,"y":2e-5},{"s":"a17","x":24000,"y":1e-5},
      {"s":"a18","x":300,"y":1e-5},{"s":"a18","x":600,"y":1.5e-4},{"s":"a18","x":1300,"y":1.8e-3},{"s":"a18","x":3000,"y":1.2e-2},{"s":"a18","x":6000,"y":2.2e-2},{"s":"a18","x":9000,"y":1.9e-2},{"s":"a18","x":12000,"y":8e-3},{"s":"a18","x":15000,"y":2e-3},{"s":"a18","x":21000,"y":3e-4},{"s":"a18","x":30000,"y":7e-5},
      {"s":"a19","x":200,"y":1e-5},{"s":"a19","x":400,"y":3e-4},{"s":"a19","x":900,"y":4e-3},{"s":"a19","x":2000,"y":2.5e-2},{"s":"a19","x":3500,"y":4.5e-2},{"s":"a19","x":5500,"y":4.3e-2},{"s":"a19","x":6000,"y":1e-5},
      {"s":"a20","x":400,"y":1e-5},{"s":"a20","x":800,"y":2e-4},{"s":"a20","x":1600,"y":2e-3},{"s":"a20","x":3600,"y":1.2e-2},{"s":"a20","x":7000,"y":2e-2},{"s":"a20","x":10000,"y":1.8e-2},{"s":"a20","x":12000,"y":1.2e-2},{"s":"a20","x":12300,"y":1e-5},
      {"s":"a21","x":900,"y":1e-5},{"s":"a21","x":1800,"y":1e-4},{"s":"a21","x":3500,"y":1e-3},{"s":"a21","x":6500,"y":6e-3},{"s":"a21","x":9500,"y":1.1e-2},{"s":"a21","x":11500,"y":1e-2},{"s":"a21","x":14000,"y":4e-3},{"s":"a21","x":17000,"y":8e-4},{"s":"a21","x":23000,"y":8e-5},{"s":"a21","x":30000,"y":1.2e-5},
      {"s":"a22","x":300,"y":1e-5},{"s":"a22","x":600,"y":2e-4},{"s":"a22","x":1200,"y":2.5e-3},{"s":"a22","x":2600,"y":1.5e-2},{"s":"a22","x":5500,"y":2.8e-2},{"s":"a22","x":7500,"y":2e-2},{"s":"a22","x":9500,"y":6e-3},{"s":"a22","x":9700,"y":1e-5},
      {"s":"a23","x":250,"y":1e-5},{"s":"a23","x":500,"y":2e-4},{"s":"a23","x":1100,"y":2.5e-3},{"s":"a23","x":2400,"y":1.7e-2},{"s":"a23","x":4500,"y":3.2e-2},{"s":"a23","x":6000,"y":2.5e-2},{"s":"a23","x":8500,"y":4e-3},{"s":"a23","x":12500,"y":2e-4},{"s":"a23","x":16000,"y":1e-5},
      {"s":"a24","x":400,"y":1e-5},{"s":"a24","x":800,"y":2e-4},{"s":"a24","x":1700,"y":2e-3},{"s":"a24","x":3800,"y":1.2e-2},{"s":"a24","x":7000,"y":2e-2},{"s":"a24","x":10500,"y":1.7e-2},{"s":"a24","x":13500,"y":6e-3},{"s":"a24","x":16500,"y":1.5e-3},{"s":"a24","x":22000,"y":2e-4},{"s":"a24","x":30000,"y":4e-5},
      {"s":"a25","x":350,"y":1e-5},{"s":"a25","x":700,"y":2e-4},{"s":"a25","x":1500,"y":2e-3},{"s":"a25","x":3200,"y":1.2e-2},{"s":"a25","x":6000,"y":2.3e-2},{"s":"a25","x":8000,"y":1.8e-2},{"s":"a25","x":10500,"y":6e-3},{"s":"a25","x":14000,"y":9e-4},{"s":"a25","x":20000,"y":5e-5},{"s":"a25","x":22000,"y":1e-5},
      {"s":"a26","x":300,"y":1e-5},{"s":"a26","x":600,"y":2.5e-4},{"s":"a26","x":1200,"y":3e-3},{"s":"a26","x":2700,"y":1.6e-2},{"s":"a26","x":5000,"y":3e-2},{"s":"a26","x":6700,"y":6e-2},{"s":"a26","x":7000,"y":1e-5},
      {"s":"a27","x":600,"y":1e-5},{"s":"a27","x":1200,"y":1.5e-4},{"s":"a27","x":2500,"y":1.5e-3},{"s":"a27","x":5000,"y":7e-3},{"s":"a27","x":8500,"y":1.6e-2},{"s":"a27","x":11000,"y":2e-2},{"s":"a27","x":12000,"y":3.2e-2},{"s":"a27","x":12200,"y":1e-5},
      {"s":"a28","x":300,"y":1e-5},{"s":"a28","x":600,"y":2e-4},{"s":"a28","x":1300,"y":2e-3},{"s":"a28","x":3000,"y":1.2e-2},{"s":"a28","x":6000,"y":2.4e-2},{"s":"a28","x":6800,"y":2e-2},{"s":"a28","x":7100,"y":1e-5},
      {"s":"a29","x":150,"y":1e-5},{"s":"a29","x":300,"y":3e-4},{"s":"a29","x":700,"y":4.5e-3},{"s":"a29","x":1500,"y":2.2e-2},{"s":"a29","x":2800,"y":4.2e-2},{"s":"a29","x":4000,"y":4.5e-2},{"s":"a29","x":5500,"y":2.5e-2},{"s":"a29","x":7000,"y":6e-3},{"s":"a29","x":9000,"y":5e-4},{"s":"a29","x":11000,"y":1e-5},
      {"s":"a30","x":250,"y":1e-5},{"s":"a30","x":500,"y":2e-4},{"s":"a30","x":1100,"y":2.5e-3},{"s":"a30","x":2400,"y":1.6e-2},{"s":"a30","x":5000,"y":3e-2},{"s":"a30","x":7500,"y":2.8e-2},{"s":"a30","x":10000,"y":1e-2},{"s":"a30","x":12500,"y":2e-3},{"s":"a30","x":16000,"y":1.5e-4},{"s":"a30","x":20000,"y":1e-5},
      {"s":"a31","x":400,"y":1e-5},{"s":"a31","x":800,"y":2e-4},{"s":"a31","x":1700,"y":2e-3},{"s":"a31","x":3800,"y":1.2e-2},{"s":"a31","x":7000,"y":2.2e-2},{"s":"a31","x":10000,"y":2.3e-2},{"s":"a31","x":12500,"y":1.2e-2},{"s":"a31","x":15000,"y":3e-3},{"s":"a31","x":19000,"y":4e-4},{"s":"a31","x":26000,"y":3e-5},{"s":"a31","x":28000,"y":1e-5},
      {"s":"a32","x":200,"y":1e-5},{"s":"a32","x":400,"y":3e-4},{"s":"a32","x":900,"y":4e-3},{"s":"a32","x":2000,"y":2.4e-2},{"s":"a32","x":3500,"y":4.2e-2},{"s":"a32","x":5000,"y":4e-2},{"s":"a32","x":6300,"y":5.5e-2},{"s":"a32","x":6600,"y":1e-5},
      {"s":"a33","x":300,"y":1e-5},{"s":"a33","x":600,"y":2e-4},{"s":"a33","x":1300,"y":2.5e-3},{"s":"a33","x":2800,"y":1.5e-2},{"s":"a33","x":5500,"y":2.6e-2},{"s":"a33","x":8500,"y":2.6e-2},{"s":"a33","x":10800,"y":3e-2},{"s":"a33","x":11000,"y":1e-5},
      {"s":"a34","x":250,"y":1e-5},{"s":"a34","x":500,"y":2.5e-4},{"s":"a34","x":1100,"y":3e-3},{"s":"a34","x":2500,"y":1.8e-2},{"s":"a34","x":4500,"y":3.2e-2},{"s":"a34","x":6500,"y":2.5e-2},{"s":"a34","x":9000,"y":6e-3},{"s":"a34","x":12000,"y":6e-4},{"s":"a34","x":16000,"y":3e-5},{"s":"a34","x":17500,"y":1e-5},
      {"s":"a35","x":600,"y":1e-5},{"s":"a35","x":1200,"y":1.5e-4},{"s":"a35","x":2500,"y":1.5e-3},{"s":"a35","x":5000,"y":8e-3},{"s":"a35","x":8500,"y":1.6e-2},{"s":"a35","x":11500,"y":1.5e-2},{"s":"a35","x":14000,"y":7e-3},{"s":"a35","x":17000,"y":1.8e-3},{"s":"a35","x":22000,"y":3e-4},{"s":"a35","x":30000,"y":6e-5},
      {"s":"a36","x":350,"y":1e-5},{"s":"a36","x":700,"y":2e-4},{"s":"a36","x":1500,"y":2e-3},{"s":"a36","x":3200,"y":1.3e-2},{"s":"a36","x":6000,"y":2.4e-2},{"s":"a36","x":8000,"y":2.2e-2},{"s":"a36","x":8300,"y":1e-5},
      {"s":"a37","x":200,"y":1e-5},{"s":"a37","x":400,"y":2.5e-4},{"s":"a37","x":900,"y":3.5e-3},{"s":"a37","x":2000,"y":2e-2},{"s":"a37","x":3800,"y":3.8e-2},{"s":"a37","x":5200,"y":3.3e-2},{"s":"a37","x":7000,"y":1e-2},{"s":"a37","x":9000,"y":1.5e-3},{"s":"a37","x":11500,"y":1e-4},{"s":"a37","x":13500,"y":1e-5},
      {"s":"a38","x":300,"y":1e-5},{"s":"a38","x":600,"y":2e-4},{"s":"a38","x":1300,"y":2.2e-3},{"s":"a38","x":2900,"y":1.3e-2},{"s":"a38","x":6000,"y":2.3e-2},{"s":"a38","x":9500,"y":2e-2},{"s":"a38","x":12000,"y":9e-3},{"s":"a38","x":14500,"y":2.2e-3},{"s":"a38","x":18000,"y":3e-4},{"s":"a38","x":24000,"y":2e-5},{"s":"a38","x":25500,"y":1e-5},
      {"s":"r1","x":150,"y":4e-5},{"s":"r1","x":250,"y":5e-4},{"s":"r1","x":500,"y":3e-3},{"s":"r1","x":1000,"y":8e-3},{"s":"r1","x":2000,"y":1.7e-2},{"s":"r1","x":3300,"y":2.6e-2},{"s":"r1","x":4600,"y":2.9e-2},{"s":"r1","x":5800,"y":2.5e-2},{"s":"r1","x":7000,"y":1.7e-2},{"s":"r1","x":8200,"y":7e-3},{"s":"r1","x":9800,"y":1.7e-3},{"s":"r1","x":11300,"y":4.8e-4},{"s":"r1","x":13000,"y":1.5e-4},{"s":"r1","x":14700,"y":4.6e-5},{"s":"r1","x":16400,"y":2e-5},{"s":"r1","x":18100,"y":1e-5},
      {"s":"r2","x":150,"y":4e-5},{"s":"r2","x":250,"y":3e-4},{"s":"r2","x":500,"y":1.5e-3},{"s":"r2","x":1000,"y":4e-3},{"s":"r2","x":2000,"y":8e-3},{"s":"r2","x":3500,"y":1.3e-2},{"s":"r2","x":5000,"y":1.7e-2},{"s":"r2","x":6500,"y":1.84e-2},{"s":"r2","x":8000,"y":1.7e-2},{"s":"r2","x":10000,"y":1.2e-2},{"s":"r2","x":12300,"y":6e-3},{"s":"r2","x":14000,"y":3.3e-3},{"s":"r2","x":17100,"y":1.3e-3},{"s":"r2","x":20000,"y":6e-4},{"s":"r2","x":23000,"y":2.6e-4},{"s":"r2","x":26000,"y":1.15e-4},{"s":"r2","x":30000,"y":4.6e-5},
      {"s":"r3","x":150,"y":4e-5},{"s":"r3","x":250,"y":2.5e-4},{"s":"r3","x":500,"y":1.2e-3},{"s":"r3","x":1000,"y":3.5e-3},{"s":"r3","x":2000,"y":7e-3},{"s":"r3","x":3500,"y":1.1e-2},{"s":"r3","x":5500,"y":1.6e-2},{"s":"r3","x":7000,"y":1.9e-2},{"s":"r3","x":8400,"y":1.95e-2},{"s":"r3","x":9800,"y":1.75e-2},{"s":"r3","x":11000,"y":1.25e-2},{"s":"r3","x":12000,"y":7e-3},{"s":"r3","x":13000,"y":3.9e-3},{"s":"r3","x":14000,"y":1.3e-3},{"s":"r3","x":15400,"y":2.5e-4},{"s":"r3","x":17500,"y":6e-5},{"s":"r3","x":19500,"y":2.3e-5},{"s":"r3","x":21700,"y":1e-5},
      {"s":"N20","x":340,"y":3.3e-5},{"s":"N20","x":850,"y":4e-4},{"s":"N20","x":1700,"y":3.3e-3},{"s":"N20","x":2700,"y":9.8e-3},{"s":"N20","x":4100,"y":1.76e-2},{"s":"N20","x":6150,"y":2.6e-2},{"s":"N20","x":7900,"y":2.7e-2},{"s":"N20","x":9900,"y":2.6e-2},{"s":"N20","x":11600,"y":2.4e-2},{"s":"N20","x":12300,"y":1.6e-2},{"s":"N20","x":13000,"y":8e-3},{"s":"N20","x":14000,"y":3e-3},{"s":"N20","x":15000,"y":4.4e-4},{"s":"N20","x":15900,"y":1.25e-4},{"s":"N20","x":16200,"y":5.7e-5},{"s":"N20","x":16700,"y":3.3e-5},{"s":"N20","x":17260,"y":2.2e-5},{"s":"N20","x":17800,"y":2.1e-5},{"s":"N20","x":18100,"y":1e-5},
      {"s":"GCD200","x":340,"y":9.8e-5},{"s":"GCD200","x":850,"y":6.2e-4},{"s":"GCD200","x":1700,"y":4.2e-3},{"s":"GCD200","x":3070,"y":1.4e-2},{"s":"GCD200","x":4780,"y":2.7e-2},{"s":"GCD200","x":6830,"y":4.1e-2},{"s":"GCD200","x":8200,"y":4.8e-2},{"s":"GCD200","x":9050,"y":4.6e-2},{"s":"GCD200","x":9740,"y":3.2e-2},{"s":"GCD200","x":10080,"y":1.16e-2},{"s":"GCD200","x":10400,"y":4.2e-3},{"s":"GCD200","x":10760,"y":1.4e-3},{"s":"GCD200","x":11300,"y":5e-4},{"s":"GCD200","x":11600,"y":4.8e-4},{"s":"GCD200","x":11950,"y":5.5e-4},{"s":"GCD200","x":12640,"y":1.4e-3},{"s":"GCD200","x":13150,"y":3.9e-3},{"s":"GCD200","x":13400,"y":4.3e-3},{"s":"GCD200","x":14200,"y":4.1e-3},{"s":"GCD200","x":17100,"y":2e-3},{"s":"GCD200","x":19100,"y":9.4e-4},{"s":"GCD200","x":22200,"y":4.1e-4},{"s":"GCD200","x":23900,"y":2.5e-4},{"s":"GCD200","x":25600,"y":1.5e-4},{"s":"GCD200","x":26100,"y":1.1e-4},{"s":"GCD200","x":26600,"y":1.05e-4},{"s":"GCD200","x":27200,"y":9.4e-5}
    ]
  },
  "hconcat": [
    {
      "width": 322, "height": 367,
      "data": {"name": "p1"},
      "layer": [
        {"transform": [{"filter": "test(/^a/, datum.s)"}],
         "mark": {"type": "line", "interpolate": "monotone", "strokeWidth": 1.5, "color": "#000", "opacity": 0.2, "clip": true},
         "encoding": {
           "x": {"field": "x", "type": "quantitative", "scale": {"domain": [0, 33000], "nice": false},
                 "axis": {"orient": "bottom", "title": "Velocity (km s⁻¹)", "values": [0,2000,4000,6000,8000,10000,12000,14000,16000,18000,20000,22000,24000,26000,28000,30000,32000],
                          "labelExpr": "datum.value % 10000 == 0 ? format(datum.value, 'd') : ''",
                          "tickSize": {"condition": {"test": "datum.value % 10000 == 0", "value": -7}, "value": -4}, "labelPadding": 12, "titlePadding": 6}},
           "y": {"field": "y", "type": "quantitative", "scale": {"type": "log", "domain": [0.00001, 0.1], "nice": false},
                 "axis": {"orient": "left", "title": "⁵⁶Ni mass at 100s after explosion (M⊙)",
                          "values": [0.00001,0.00002,0.00003,0.00004,0.00005,0.00006,0.00007,0.00008,0.00009,0.0001,0.0002,0.0003,0.0004,0.0005,0.0006,0.0007,0.0008,0.0009,0.001,0.002,0.003,0.004,0.005,0.006,0.007,0.008,0.009,0.01,0.02,0.03,0.04,0.05,0.06,0.07,0.08,0.09,0.1],
                          "labelExpr": "datum.value == 0.1 ? '10⁻¹' : datum.value == 0.01 ? '10⁻²' : datum.value == 0.001 ? '10⁻³' : datum.value == 0.0001 ? '10⁻⁴' : datum.value == 0.00001 ? '10⁻⁵' : ''",
                          "tickSize": {"condition": {"test": "indexof([0.1,0.01,0.001,0.0001,0.00001], datum.value) >= 0", "value": -7}, "value": -4}, "labelPadding": 12, "titlePadding": 4}},
           "detail": {"field": "s"}
         }},
        {"transform": [{"filter": "test(/^r/, datum.s)"}],
         "mark": {"type": "line", "interpolate": "monotone", "strokeWidth": 2, "color": "#ff0000", "clip": true},
         "encoding": {
           "x": {"field": "x", "type": "quantitative", "axis": null},
           "y": {"field": "y", "type": "quantitative", "axis": null},
           "detail": {"field": "s"}
         }},
        {"transform": [{"filter": "!test(/^[ar]/, datum.s)"}],
         "mark": {"type": "line", "interpolate": "monotone", "strokeWidth": 2.2, "strokeDash": [6, 3], "clip": true},
         "encoding": {
           "x": {"field": "x", "type": "quantitative", "axis": null},
           "y": {"field": "y", "type": "quantitative", "axis": null},
           "color": {"field": "s", "type": "nominal", "scale": {"domain": ["N200", "N1600", "N1600C"], "range": ["#0c3b73", "#2b7cc0", "#a2cbe8"]},
                     "legend": {"orient": "none", "legendX": 222, "legendY": 100, "title": null, "symbolType": "stroke", "symbolSize": 420, "symbolStrokeWidth": 2.2, "symbolDash": [6, 3], "labelOffset": 12, "rowPadding": 0}}
         }},
        {"data": {"values": [{"x": 29800, "y": 0.072, "t": "0.4 M⊙"}]},
         "mark": {"type": "text", "align": "right", "baseline": "middle", "fontSize": 17, "font": "Liberation Serif", "color": "#000"},
         "encoding": {
           "x": {"field": "x", "type": "quantitative", "axis": {"orient": "top", "title": null, "labels": false, "values": [0,2000,4000,6000,8000,10000,12000,14000,16000,18000,20000,22000,24000,26000,28000,30000,32000],
                 "tickSize": {"condition": {"test": "datum.value % 10000 == 0", "value": -7}, "value": -4}}},
           "y": {"field": "y", "type": "quantitative", "axis": {"orient": "right", "title": null, "labels": false,
                 "values": [0.00001,0.00002,0.00003,0.00004,0.00005,0.00006,0.00007,0.00008,0.00009,0.0001,0.0002,0.0003,0.0004,0.0005,0.0006,0.0007,0.0008,0.0009,0.001,0.002,0.003,0.004,0.005,0.006,0.007,0.008,0.009,0.01,0.02,0.03,0.04,0.05,0.06,0.07,0.08,0.09,0.1],
                 "tickSize": {"condition": {"test": "indexof([0.1,0.01,0.001,0.0001,0.00001], datum.value) >= 0", "value": -7}, "value": -4}}},
           "text": {"field": "t"}
         }}
      ],
      "resolve": {"axis": {"x": "independent", "y": "independent"}}
    },
    {
      "width": 322, "height": 367,
      "data": {"name": "p2"},
      "layer": [
        {"transform": [{"filter": "test(/^a/, datum.s)"}],
         "mark": {"type": "line", "interpolate": "monotone", "strokeWidth": 1.5, "color": "#000", "opacity": 0.2, "clip": true},
         "encoding": {
           "x": {"field": "x", "type": "quantitative", "scale": {"domain": [0, 33000], "nice": false},
                 "axis": {"orient": "bottom", "title": "Velocity (km s⁻¹)", "values": [0,2000,4000,6000,8000,10000,12000,14000,16000,18000,20000,22000,24000,26000,28000,30000,32000],
                          "labelExpr": "datum.value % 10000 == 0 ? format(datum.value, 'd') : ''",
                          "tickSize": {"condition": {"test": "datum.value % 10000 == 0", "value": -7}, "value": -4}, "labelPadding": 12, "titlePadding": 6}},
           "y": {"field": "y", "type": "quantitative", "scale": {"type": "log", "domain": [0.00001, 0.1], "nice": false},
                 "axis": {"orient": "left", "title": "⁵⁶Ni mass at 100s after explosion (M⊙)",
                          "values": [0.00001,0.00002,0.00003,0.00004,0.00005,0.00006,0.00007,0.00008,0.00009,0.0001,0.0002,0.0003,0.0004,0.0005,0.0006,0.0007,0.0008,0.0009,0.001,0.002,0.003,0.004,0.005,0.006,0.007,0.008,0.009,0.01,0.02,0.03,0.04,0.05,0.06,0.07,0.08,0.09,0.1],
                          "labelExpr": "datum.value == 0.1 ? '10⁻¹' : datum.value == 0.01 ? '10⁻²' : datum.value == 0.001 ? '10⁻³' : datum.value == 0.0001 ? '10⁻⁴' : datum.value == 0.00001 ? '10⁻⁵' : ''",
                          "tickSize": {"condition": {"test": "indexof([0.1,0.01,0.001,0.0001,0.00001], datum.value) >= 0", "value": -7}, "value": -4}, "labelPadding": 12, "titlePadding": 4}},
           "detail": {"field": "s"}
         }},
        {"transform": [{"filter": "test(/^r/, datum.s)"}],
         "mark": {"type": "line", "interpolate": "monotone", "strokeWidth": 2, "color": "#ff0000", "clip": true},
         "encoding": {
           "x": {"field": "x", "type": "quantitative", "axis": null},
           "y": {"field": "y", "type": "quantitative", "axis": null},
           "detail": {"field": "s"}
         }},
        {"transform": [{"filter": "!test(/^[ar]/, datum.s)"}],
         "mark": {"type": "line", "interpolate": "monotone", "strokeWidth": 2.2, "strokeDash": [6, 3], "clip": true},
         "encoding": {
           "x": {"field": "x", "type": "quantitative", "axis": null},
           "y": {"field": "y", "type": "quantitative", "axis": null},
           "color": {"field": "s", "type": "nominal", "scale": {"domain": ["N40", "N100H", "N100", "N100L", "N150"], "range": ["#00441b", "#006d2c", "#238b45", "#4daf5f", "#a1d99b"]},
                     "legend": {"orient": "none", "legendX": 220, "legendY": 100, "title": null, "symbolType": "stroke", "symbolSize": 420, "symbolStrokeWidth": 2.2, "symbolDash": [6, 3], "labelOffset": 12, "rowPadding": 0}}
         }},
        {"data": {"values": [{"x": 29800, "y": 0.072, "t": "0.6 M⊙"}]},
         "mark": {"type": "text", "align": "right", "baseline": "middle", "fontSize": 17, "font": "Liberation Serif", "color": "#000"},
         "encoding": {
           "x": {"field": "x", "type": "quantitative", "axis": {"orient": "top", "title": null, "labels": false, "values": [0,2000,4000,6000,8000,10000,12000,14000,16000,18000,20000,22000,24000,26000,28000,30000,32000],
                 "tickSize": {"condition": {"test": "datum.value % 10000 == 0", "value": -7}, "value": -4}}},
           "y": {"field": "y", "type": "quantitative", "axis": {"orient": "right", "title": null, "labels": false,
                 "values": [0.00001,0.00002,0.00003,0.00004,0.00005,0.00006,0.00007,0.00008,0.00009,0.0001,0.0002,0.0003,0.0004,0.0005,0.0006,0.0007,0.0008,0.0009,0.001,0.002,0.003,0.004,0.005,0.006,0.007,0.008,0.009,0.01,0.02,0.03,0.04,0.05,0.06,0.07,0.08,0.09,0.1],
                 "tickSize": {"condition": {"test": "indexof([0.1,0.01,0.001,0.0001,0.00001], datum.value) >= 0", "value": -7}, "value": -4}}},
           "text": {"field": "t"}
         }}
      ],
      "resolve": {"axis": {"x": "independent", "y": "independent"}}
    },
    {
      "width": 322, "height": 367,
      "data": {"name": "p3"},
      "layer": [
        {"transform": [{"filter": "test(/^a/, datum.s)"}],
         "mark": {"type": "line", "interpolate": "monotone", "strokeWidth": 1.5, "color": "#000", "opacity": 0.2, "clip": true},
         "encoding": {
           "x": {"field": "x", "type": "quantitative", "scale": {"domain": [0, 33000], "nice": false},
                 "axis": {"orient": "bottom", "title": "Velocity (km s⁻¹)", "values": [0,2000,4000,6000,8000,10000,12000,14000,16000,18000,20000,22000,24000,26000,28000,30000,32000],
                          "labelExpr": "datum.value % 10000 == 0 ? format(datum.value, 'd') : ''",
                          "tickSize": {"condition": {"test": "datum.value % 10000 == 0", "value": -7}, "value": -4}, "labelPadding": 12, "titlePadding": 6}},
           "y": {"field": "y", "type": "quantitative", "scale": {"type": "log", "domain": [0.00001, 0.1], "nice": false},
                 "axis": {"orient": "left", "title": "⁵⁶Ni mass at 100s after explosion (M⊙)",
                          "values": [0.00001,0.00002,0.00003,0.00004,0.00005,0.00006,0.00007,0.00008,0.00009,0.0001,0.0002,0.0003,0.0004,0.0005,0.0006,0.0007,0.0008,0.0009,0.001,0.002,0.003,0.004,0.005,0.006,0.007,0.008,0.009,0.01,0.02,0.03,0.04,0.05,0.06,0.07,0.08,0.09,0.1],
                          "labelExpr": "datum.value == 0.1 ? '10⁻¹' : datum.value == 0.01 ? '10⁻²' : datum.value == 0.001 ? '10⁻³' : datum.value == 0.0001 ? '10⁻⁴' : datum.value == 0.00001 ? '10⁻⁵' : ''",
                          "tickSize": {"condition": {"test": "indexof([0.1,0.01,0.001,0.0001,0.00001], datum.value) >= 0", "value": -7}, "value": -4}, "labelPadding": 12, "titlePadding": 4}},
           "detail": {"field": "s"}
         }},
        {"transform": [{"filter": "test(/^r/, datum.s)"}],
         "mark": {"type": "line", "interpolate": "monotone", "strokeWidth": 2, "color": "#ff0000", "clip": true},
         "encoding": {
           "x": {"field": "x", "type": "quantitative", "axis": null},
           "y": {"field": "y", "type": "quantitative", "axis": null},
           "detail": {"field": "s"}
         }},
        {"transform": [{"filter": "!test(/^[ar]/, datum.s)"}],
         "mark": {"type": "line", "interpolate": "monotone", "strokeWidth": 2.2, "clip": true},
         "encoding": {
           "x": {"field": "x", "type": "quantitative", "axis": null},
           "y": {"field": "y", "type": "quantitative", "axis": null},
           "color": {"field": "s", "type": "nominal", "scale": {"domain": ["N20", "GCD200"], "range": ["#6a51a3", "#000000"]},
                     "legend": {"orient": "none", "legendX": 199, "legendY": 100, "title": null, "symbolType": "stroke", "symbolSize": 420, "symbolStrokeWidth": 2.2, "labelOffset": 12, "rowPadding": 0}},
           "strokeDash": {"field": "s", "type": "nominal", "scale": {"domain": ["N20", "GCD200"], "range": [[6, 3], [8, 3, 2, 3]]},
                     "legend": {"orient": "none", "legendX": 199, "legendY": 100, "title": null, "symbolType": "stroke", "symbolSize": 420, "symbolStrokeWidth": 2.2, "labelOffset": 12, "rowPadding": 0}}
         }},
        {"data": {"values": [{"x": 29800, "y": 0.072, "t": "0.8 M⊙"}]},
         "mark": {"type": "text", "align": "right", "baseline": "middle", "fontSize": 17, "font": "Liberation Serif", "color": "#000"},
         "encoding": {
           "x": {"field": "x", "type": "quantitative", "axis": {"orient": "top", "title": null, "labels": false, "values": [0,2000,4000,6000,8000,10000,12000,14000,16000,18000,20000,22000,24000,26000,28000,30000,32000],
                 "tickSize": {"condition": {"test": "datum.value % 10000 == 0", "value": -7}, "value": -4}}},
           "y": {"field": "y", "type": "quantitative", "axis": {"orient": "right", "title": null, "labels": false,
                 "values": [0.00001,0.00002,0.00003,0.00004,0.00005,0.00006,0.00007,0.00008,0.00009,0.0001,0.0002,0.0003,0.0004,0.0005,0.0006,0.0007,0.0008,0.0009,0.001,0.002,0.003,0.004,0.005,0.006,0.007,0.008,0.009,0.01,0.02,0.03,0.04,0.05,0.06,0.07,0.08,0.09,0.1],
                 "tickSize": {"condition": {"test": "indexof([0.1,0.01,0.001,0.0001,0.00001], datum.value) >= 0", "value": -7}, "value": -4}}},
           "text": {"field": "t"}
         }}
      ],
      "resolve": {"axis": {"x": "independent", "y": "independent"}}
    }
  ]
}
